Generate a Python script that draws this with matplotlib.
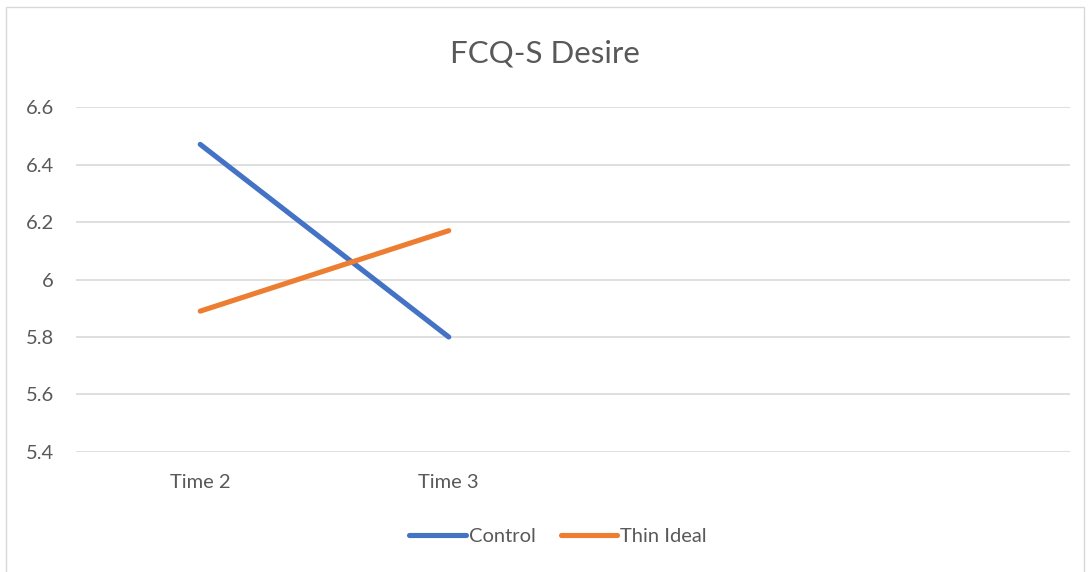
import matplotlib.pyplot as plt
import matplotlib.patches as patches

plt.rcParams['font.family'] = ['Lato', 'DejaVu Sans']

categories = ['Time 2', 'Time 3', '', '']
control = [6.47, 5.80]
thin_ideal = [5.89, 6.17]
yticks = [5.4, 5.6, 5.8, 6.0, 6.2, 6.4, 6.6]
ytick_labels = ['5.4', '5.6', '5.8', '6', '6.2', '6.4', '6.6']

fig = plt.figure(figsize=(10.9, 5.72), dpi=100)
ax = fig.add_axes([0.0697, 0.2098, 0.912, 0.6031])

x = list(range(len(categories)))
ax.plot(x[:len(control)], control, color='#4472C4', lw=3.7, solid_capstyle='round', label='Control')
ax.plot(x[:len(thin_ideal)], thin_ideal, color='#ED7D31', lw=3.7, solid_capstyle='round', label='Thin Ideal')

ax.set_xlim(-0.5, len(categories) - 0.5)
ax.set_ylim(5.4, 6.6)
ax.set_xticks(x)
ax.set_xticklabels(categories)
ax.set_yticks(yticks)
ax.set_yticklabels(ytick_labels)
ax.tick_params(length=0, labelsize=14.5, colors='#595959')
ax.tick_params(axis='y', pad=16)
ax.tick_params(axis='x', pad=16)
ax.grid(axis='y', color='#D9D9D9', lw=1.2)
ax.set_axisbelow(True)
for s in ax.spines.values():
    s.set_visible(False)

fig.text(0.5, 0.907, 'FCQ-S Desire', ha='center', va='center', fontsize=22.5, color='#595959')

leg = fig.legend(loc='center', bbox_to_anchor=(0.512, 0.062), ncol=2, frameon=False,
                 fontsize=14.5, handlelength=2.8, handletextpad=0.15, columnspacing=1.25)
for t in leg.get_texts():
    t.set_color('#595959')

fig.patches.append(patches.Rectangle((6 / 1090, -0.01), 1078 / 1090, 1 - 7 / 572 + 0.01,
                                     transform=fig.transFigure, fill=False,
                                     edgecolor='#D9D9D9', lw=1.0, clip_on=False))

fig.savefig('out.png', dpi=100)
